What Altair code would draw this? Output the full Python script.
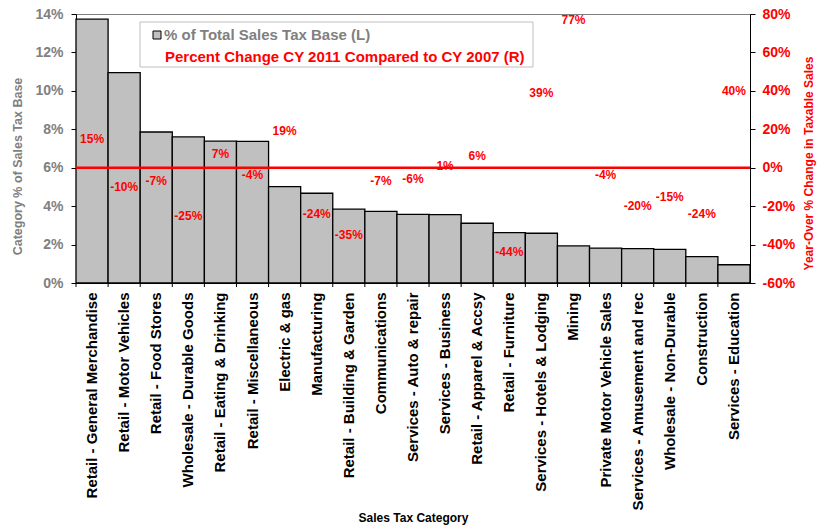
import altair as alt
import pandas as pd

# Sales tax categories, ordered by their share of the tax base
categories = [
    "Retail - General Merchandise", "Retail - Motor Vehicles", "Retail - Food Stores",
    "Wholesale - Durable Goods", "Retail - Eating & Drinking", "Retail - Miscellaneous",
    "Electric & gas", "Manufacturing", "Retail - Building & Garden", "Communications",
    "Services - Auto & repair", "Services - Business", "Retail - Apparel & Accsy",
    "Retail - Furniture", "Services - Hotels & Lodging", "Mining",
    "Private Motor Vehicle Sales", "Services - Amusement and rec",
    "Wholesale - Non-Durable", "Construction", "Services - Education",
]
# Share of total sales tax base (left axis)
share_of_base = [
    0.1373, 0.1095, 0.0786, 0.0760, 0.0738, 0.0737, 0.0502, 0.0467, 0.0384, 0.0373,
    0.0357, 0.0356, 0.0311, 0.0262, 0.0259, 0.0193, 0.0182, 0.0179, 0.0175, 0.0137, 0.0095,
]
# Percent change CY 2011 vs CY 2007 (right axis)
pct_change = [
    0.15, -0.10, -0.07, -0.25, 0.07, -0.04, 0.19, -0.24, -0.35, -0.07,
    -0.06, 0.01, 0.06, -0.44, 0.39, 0.77, -0.04, -0.20, -0.15, -0.24, 0.40,
]
legend_items = ["% of Total Sales Tax Base (L)", "Percent Change CY 2011 Compared to CY 2007 (R)"]

df = pd.DataFrame({"category": categories, "share": share_of_base, "change": pct_change})

FONT = "Liberation Sans"
GRAY = "#808080"
RED = "#FF0000"
W, H = 674, 269

# percent labels with a plain hyphen for negatives
PCT_EXPR = "(datum.value < 0 ? '-' : '') + format(abs(datum.value), '.0%')"

x_scale = alt.Scale(domain=categories, paddingInner=0, paddingOuter=0)

x_axis = alt.Axis(
    title="Sales Tax Category", labelAngle=270, labelAlign="right", labelBaseline="middle",
    labelFontSize=15, labelFontWeight="bold", labelColor="black", labelPadding=9,
    labelLimit=0, ticks=False, tickSize=0, domainColor="black", domainWidth=1,
    titleFontSize=12, titleFontWeight="bold", titleColor="black",
    titleY=234, titleBaseline="middle", titleX=W / 2,
)

def x_enc(**kw):
    return alt.X("category:N", sort=categories, scale=x_scale, axis=x_axis, **kw)

base = alt.Chart(df)

bars = base.mark_bar(fill="#C0C0C0", stroke="black", strokeWidth=1.3).encode(
    x=x_enc(),
    y=alt.Y(
        "share:Q",
        scale=alt.Scale(domain=[0, 0.14], nice=False),
        axis=alt.Axis(
            title="Category % of Sales Tax Base", labelExpr=PCT_EXPR,
            values=[0, 0.02, 0.04, 0.06, 0.08, 0.10, 0.12, 0.14],
            labelFontSize=14, labelFontWeight="bold", labelColor=GRAY,
            tickSize=5, tickColor="black", labelPadding=8, domainColor="black",
            grid=False, titleFontSize=12.5, titleFontWeight="bold", titleColor=GRAY,
            titleAngle=270, titleX=-59, titleY=152, titleAlign="center", titleBaseline="middle",
        ),
    ),
)

# tick marks on the category axis sit at the band boundaries
band_ticks = base.mark_rule(color="black", strokeWidth=1).encode(
    x=x_enc(bandPosition=0),
    y=alt.value(H),
    y2=alt.value(H + 4),
)

change_scale = alt.Scale(domain=[-0.6, 0.8], nice=False)

labels = base.transform_calculate(
    label="(datum.change < 0 ? '-' : '') + format(abs(datum.change), '.0%')"
).mark_text(
    font=FONT, fontSize=12, fontWeight="bold", color=RED, align="center", baseline="middle"
).encode(
    x=x_enc(),
    y=alt.Y(
        "change:Q",
        scale=change_scale,
        axis=alt.Axis(
            orient="right", title="Year-Over % Change in Taxable Sales", labelExpr=PCT_EXPR,
            values=[-0.6, -0.4, -0.2, 0, 0.2, 0.4, 0.6, 0.8],
            labelFontSize=14, labelFontWeight="bold", labelColor=RED,
            tickSize=5, tickColor="black", labelPadding=7, domainColor="black",
            grid=False, titleFontSize=12, titleFontWeight="bold", titleColor=RED,
            titleAngle=270, titleX=58, titleY=149, titleAlign="center", titleBaseline="middle",
        ),
    ),
    text=alt.Text("label:N"),
)

zero_line = alt.Chart(pd.DataFrame({"v": [0.0]})).mark_rule(color=RED, strokeWidth=2.5).encode(
    y=alt.Y("v:Q", scale=change_scale, axis=None),
    x=alt.value(0),
    x2=alt.value(W),
)

# legend box
legend_box = alt.Chart(pd.DataFrame({"k": [0]})).mark_rect(
    fill="white", stroke="#BFBFBF", strokeWidth=1
).encode(x=alt.value(64), x2=alt.value(457), y=alt.value(8), y2=alt.value(53))

legend_swatch = alt.Chart(pd.DataFrame({"k": [0]})).mark_rect(
    fill="#C0C0C0", stroke="black", strokeWidth=1
).encode(x=alt.value(77), x2=alt.value(85), y=alt.value(17), y2=alt.value(25))

legend_text1 = alt.Chart(pd.DataFrame({"t": [legend_items[0]]})).mark_text(
    font=FONT, fontSize=15, fontWeight="bold", color=GRAY, align="left", baseline="middle"
).encode(text="t:N", x=alt.value(88), y=alt.value(21))

legend_text2 = alt.Chart(pd.DataFrame({"t": [legend_items[1]]})).mark_text(
    font=FONT, fontSize=15, fontWeight="bold", color=RED, align="left", baseline="middle"
).encode(text="t:N", x=alt.value(89), y=alt.value(43))

chart = alt.layer(
    bars, band_ticks, zero_line, labels, legend_box, legend_swatch, legend_text1, legend_text2
).resolve_scale(y="independent").properties(
    width=W, height=H,
    autosize=alt.AutoSizeParams(type="none"),
    padding={"left": 76, "top": 14, "right": 67, "bottom": 246},
).configure(
    font=FONT,
).configure_view(
    stroke=GRAY, strokeWidth=1,
)

chart.save("out.html", embed_options={"renderer": "svg", "actions": False})
